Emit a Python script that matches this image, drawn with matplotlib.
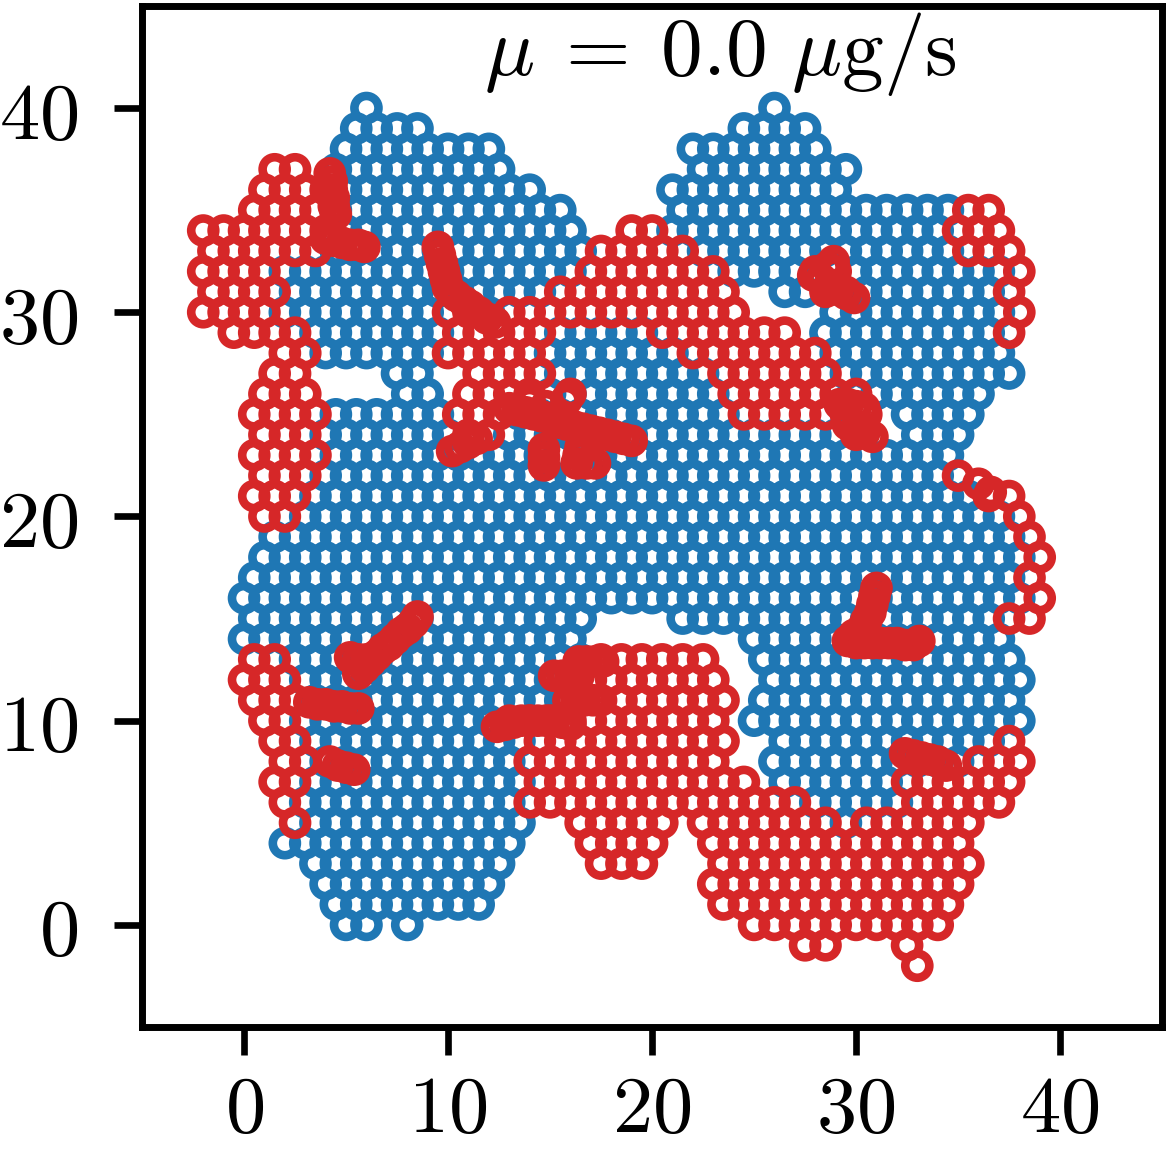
import numpy as np
import matplotlib
matplotlib.use("Agg")
import matplotlib.pyplot as plt
from matplotlib.ticker import FuncFormatter

plt.rcParams['mathtext.fontset'] = 'cm'
plt.rcParams['font.family'] = 'serif'

# one row per y value (top row is y = 40), one cell per unit of x,
# cell 0 sits at x = -2 (odd rows shifted by half a cell)
# b = blue cell, r = red cell, . = empty ; spaces only split groups of 10
row_y = list(range(40, -3, -1))
cell_rows = [
    "........b. .......... ........b. .......... ..",   # 40
    ".......bbb b......... ......bbbb .......... ..",   # 39
    ".......bbb bbbbb..... ....bbbbbb b......... ..",   # 38
    "...rr.bbbb bbbbb..... ....bbbbbb bb........ ..",   # 37
    "...rrrrbbb bbbbbbb... ...bbbbbbb bb........ ..",   # 36
    "..rrrrbbbb bbbbbbbb.. ...bbbbbbb bbbbbbbrr. ..",   # 35
    "rrrrrrrbbb bbbbbbbbb. .rrbbbbbbb bbbbbbbrrr ..",   # 34
    "rrrrrrbbbb bbbbbbbbbr rrrrbbbbbb bbbbbbbrrr ..",   # 33
    "rrrrbbbbbb bbbbbbbbbr rrrrrrbbbb rrbbbbbbbb r.",   # 32
    "rrrrbbbbbb bbbbbbbrrr rrrrrr..bb rrbbbbbbbr ..",   # 31
    "rrrrbbbbbb bbrrbrrrrr rrrrrrr... .bbbbbbbbb r.",   # 30
    ".rrrrbbbbb bbrrrrrbbb bbrrrrrrr. bbbbbbbbbr ..",   # 29
    "....rrbbbb bbrrrrrbbb bbbbrrrrrr rbbbbbbbbb ..",   # 28
    "...rr....b b..rrrrbbb bbbbbrrrrr rbbbbbbbbb ..",   # 27
    "...rrr.... bb.rrrrbbb bbbbbbrrrr rrrbbbbbb. ..",   # 26
    "..rrrrbbbb bbrrrbbbbb bbbbbbrrrr rrr.bbbb.. ..",   # 25
    "...rrrbbbb bbbrrbbbbb bbbbbbbbbb bbr..bbb.. ..",   # 24
    "..rrrrbbbb bbbbbbbbbb bbbbbbbbbb bbbbbbb... ..",   # 23
    "...rrrbbbb bbbbbbbbbb bbbbbbbbbb bbbbbbbr.. ..",   # 22
    "..rrrbbbbb bbbbbbbbbb bbbbbbbbbb bbbbbbbbrr ..",   # 21
    "...rrbbbbb bbbbbbbbbb bbbbbbbbbb bbbbbbbbbb r.",   # 20
    "...bbbbbbb bbbbbbbbbb bbbbbbbbbb bbbbbbbbbb r.",   # 19
    "...bbbbbbb bbbbbbbbbb bbbbbbbbbb bbbbbbbbbb br",   # 18
    "..bbbbbbbb bbbbbbbbbb bbbbbbbbbb bbbbbbbbbb r.",   # 17
    "..bbbbbbbb bbbbbbbbbb bbbbbbbbbb bbbbbbbbbb br",   # 16
    "..bbbbbbbb bbbbbbbbb. ...bbbbbbb bbbbbbbbbr r.",   # 15
    "..bbbbbbbb bbbbbbbbb. .......bbb bbbbbbbbbb ..",   # 14
    "..rrbbbbbb bbbbbbbbbr rrrrr..bbb bbbbbbbbbb ..",   # 13
    "..rrrbbbbb bbbbbbbbbr rrrrrr..bb bbbbbbbbbb b.",   # 12
    "..rrrbbbbb bbbbbbbbrr rrrrrr.bbb bbbbbbbbbb ..",   # 11
    "...rrbbbbb bbbbbrrrrr rrrrrr.bbb bbbbbbbbbb b.",   # 10
    "...rrbbbbb bbbbbbrrrr rrrrrr..bb bbbbbbbbbr ..",   # 9
    "....rrbbbb bbbbbbrrrr rrrrrr..bb bbbbbbbbrr r.",   # 8
    "...rrbbbbb bbbbbbrrrr rrrrrrr.bb bbbbrrrrrr ..",   # 7
    "....rbbbbb bbbbbbrrrr rrrrrrrrrr bbbbbrrrrr ..",   # 6
    "....rbbbbb bbbbbb..rr rrr.rrrrrr rbrrrrrr.. ..",   # 5
    "....bbbbbb bbbbbb...r rrr..rrrrr rrrrrrrr.. ..",   # 4
    ".....bbbbb bbbbb....r rr...rrrrr rrrrrrrr.. ..",   # 3
    "......bbbb bbbbb..... .....rrrrr rrrrrrrr.. ..",   # 2
    "......bbbb bbbb...... .....rrrrr rrrrrrr... ..",   # 1
    ".......bb. b......... .......rrr rrrrrrr... ..",   # 0
    ".......... .......... .........r r...r..... ..",   # -1
    ".......... .......... .......... .....r.... ..",   # -2
]

# thin, densely packed red chains
streak_pts = [
    (4.0, 33.6), (4.4, 33.5), (4.8, 33.4), (5.2, 33.3), (5.6, 33.3), (5.9, 33.2),
    (4.2, 36.8), (4.3, 36.4), (4.3, 36.0), (4.4, 35.6), (4.4, 35.2), (4.5, 34.8),
    (9.5, 33.2), (9.6, 32.8), (9.7, 32.4), (9.8, 32.0), (9.9, 31.6), (10.0, 31.2),
    (10.4, 30.8), (10.8, 30.5), (11.1, 30.3), (11.5, 30.0), (11.9, 29.7), (12.3, 29.5),
    (10.2, 23.2), (10.6, 23.4), (11.0, 23.6), (11.4, 23.8),
    (13.0, 25.3), (13.4, 25.2), (13.8, 25.1), (14.2, 25.0), (14.6, 24.9), (15.0, 24.8),
    (15.4, 24.6), (15.8, 24.5), (16.2, 24.4), (16.6, 24.3), (17.0, 24.2), (17.4, 24.1),
    (17.8, 24.0), (18.2, 23.9), (18.6, 23.8), (19.0, 23.7), (15.8, 25.7), (16.0, 26.0),
    (14.0, 25.6), (14.8, 25.4),
    (14.7, 22.5), (14.7, 22.9), (14.7, 23.3), (16.3, 22.6), (16.8, 22.6), (17.2, 22.6),
    (16.4, 23.0), (16.5, 23.4),
    (27.9, 31.8), (28.3, 31.6), (28.7, 31.3), (29.1, 31.1), (29.5, 30.9), (29.9, 30.7),
    (28.6, 32.2), (28.9, 32.5),
    (29.2, 25.5), (29.6, 25.5), (30.0, 25.4), (30.4, 25.3), (29.6, 24.5), (30.0, 24.3),
    (30.4, 24.1), (30.8, 23.9),
    (5.6, 12.3), (5.9, 12.6), (6.2, 12.9), (6.5, 13.2), (6.8, 13.5), (7.1, 13.7),
    (7.4, 14.0), (7.7, 14.3), (8.0, 14.5), (8.3, 14.8), (8.5, 15.1), (5.2, 13.1),
    (5.6, 13.0), (6.0, 13.0),
    (3.2, 10.9), (3.6, 10.8), (4.0, 10.8), (4.4, 10.7), (4.8, 10.7), (5.2, 10.6), (5.6, 10.6),
    (4.2, 8.0), (4.6, 7.8), (5.0, 7.7), (5.4, 7.6),
    (12.4, 9.7), (12.8, 9.8), (13.2, 9.9), (13.6, 10.0), (14.0, 10.0), (14.4, 10.0),
    (14.8, 10.0), (15.2, 10.0), (15.6, 9.9), (16.0, 9.8),
    (16.4, 12.9), (16.8, 12.9), (17.2, 12.9), (17.6, 12.9), (15.2, 12.2), (15.6, 12.2),
    (16.0, 12.2), (16.4, 12.2), (15.9, 11.0), (16.3, 11.0), (16.7, 11.0), (17.1, 11.0),
    (31.0, 16.5), (30.9, 16.1), (30.8, 15.7), (30.7, 15.3), (30.5, 14.9), (30.3, 14.5),
    (29.9, 14.2), (29.6, 13.9), (30.0, 13.8), (30.4, 13.8), (30.8, 13.8), (31.2, 13.8),
    (31.6, 13.8), (32.0, 13.8), (32.4, 13.7), (32.8, 13.7), (33.1, 13.9),
    (32.4, 8.4), (32.8, 8.3), (33.2, 8.2), (33.6, 8.1), (34.0, 8.0), (34.4, 7.8),
    (36.0, 21.6), (36.6, 21.2),
]

ticks = [0, 10, 20, 30, 40]
title_text = r'$\mu\:=\:0.0\ \mu\mathrm{g/s}$'

blue = '#1f77b4'
red = '#d62728'

# turn the cell map into point lists
bx, by, rx, ry = [], [], [], []
for y, row in zip(row_y, cell_rows):
    cells = row.replace(" ", "")
    shift = 0.5 if y % 2 else 0.0
    for i, c in enumerate(cells):
        x = -2 + i + shift
        if c == 'b':
            bx.append(x); by.append(y)
        elif c == 'r':
            rx.append(x); ry.append(y)
sx, sy = zip(*streak_pts)

fig = plt.figure(figsize=(11.69, 11.59), dpi=100)
ax = fig.add_axes([0.1215, 0.1139, 0.8726, 0.881])

ring = dict(s=300, facecolors='none', linewidths=6.2)
ax.scatter(bx, by, edgecolors=blue, **ring)
ax.scatter(rx, ry, edgecolors=red, **ring)
ax.scatter(sx, sy, edgecolors=red, **ring)

ax.set_xlim(-5, 45)
ax.set_ylim(-5, 45)
ax.set_xticks(ticks)
ax.set_yticks(ticks)
fmt = FuncFormatter(lambda v, p: f'${v:.0f}$')
ax.xaxis.set_major_formatter(fmt)
ax.yaxis.set_major_formatter(fmt)
ax.tick_params(direction='out', length=20, width=4.8, labelsize=58)
ax.tick_params(axis='x', pad=12)
ax.tick_params(axis='y', pad=26)
for sp in ax.spines.values():
    sp.set_linewidth(5)

ax.text(0.567, 0.953, title_text, transform=ax.transAxes, ha='center', va='center',
        fontsize=60)

fig.savefig('out.png', dpi=100)
